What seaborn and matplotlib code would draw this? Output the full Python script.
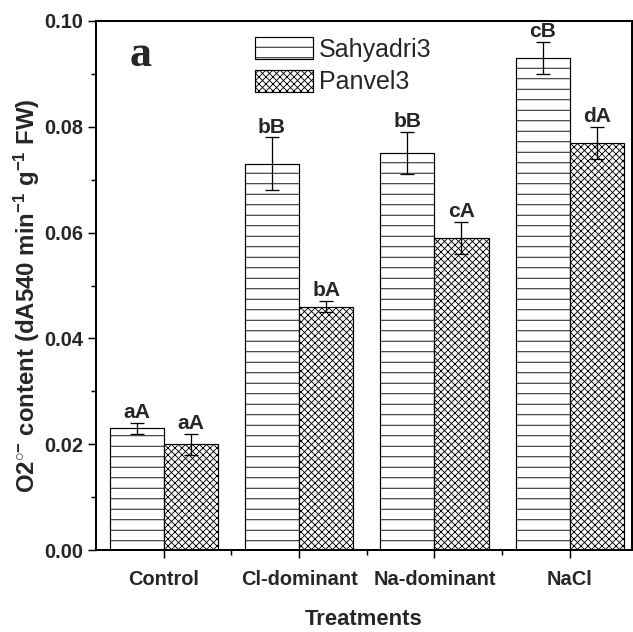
import matplotlib
matplotlib.use("Agg")
import matplotlib.pyplot as plt
import matplotlib.ticker as mticker
from matplotlib.patches import Patch
import seaborn as sns
import pandas as pd

treatments = ["Control", "Cl-dominant", "Na-dominant", "NaCl"]
cultivars = ["Sahyadri3", "Panvel3"]
sahyadri_vals = [0.023, 0.073, 0.075, 0.093]
sahyadri_err = [0.001, 0.005, 0.004, 0.003]
panvel_vals = [0.020, 0.046, 0.059, 0.077]
panvel_err = [0.002, 0.001, 0.003, 0.003]
sahyadri_letters = ["aA", "bB", "bB", "cB"]
panvel_letters = ["aA", "bA", "cA", "dA"]
hatches = {"Sahyadri3": "-", "Panvel3": "xxx"}

DPI = 63.3
PX = 72.0 / DPI  # points per pixel


def main():
    df = pd.DataFrame({
        "Treatment": treatments * 2,
        "Cultivar": [cultivars[0]] * 4 + [cultivars[1]] * 4,
        "value": sahyadri_vals + panvel_vals,
        "err": sahyadri_err + panvel_err,
        "letter": sahyadri_letters + panvel_letters,
    })

    sns.set_style("ticks")
    plt.rcParams["font.family"] = ["Liberation Sans", "DejaVu Sans"]
    plt.rcParams["mathtext.fontset"] = "custom"
    plt.rcParams["mathtext.rm"] = "Liberation Sans:bold"
    plt.rcParams["mathtext.bf"] = "Liberation Sans:bold"
    plt.rcParams["mathtext.default"] = "bf"
    plt.rcParams["hatch.linewidth"] = 1.0

    fig = plt.figure(figsize=(633 / DPI, 632 / DPI), dpi=DPI)
    ax = fig.add_axes([96 / 633, 82 / 632, 536 / 633, 529 / 632])

    sns.barplot(data=df, x="Treatment", y="value", hue="Cultivar",
                order=treatments, hue_order=cultivars,
                palette={c: "white" for c in cultivars},
                edgecolor="black", linewidth=1.2 * PX, errorbar=None,
                width=0.8, legend=False, ax=ax)

    for cont, cult in zip(ax.containers, cultivars):
        sub = df[df["Cultivar"] == cult].set_index("Treatment").loc[treatments]
        xs = []
        for bar in cont:
            bar.set_hatch(hatches[cult])
            xs.append(bar.get_x() + bar.get_width() / 2)
        ax.errorbar(xs, sub["value"], yerr=sub["err"], fmt="none",
                    ecolor="black", elinewidth=1.3 * PX, capsize=7 * PX,
                    capthick=1.3 * PX, zorder=3)
        for x, v, e, lab in zip(xs, sub["value"], sub["err"], sub["letter"]):
            ax.annotate(lab, (x, v + e), xytext=(0, 1), textcoords="offset points",
                        ha="center", va="bottom", fontsize=21 * PX,
                        fontweight="bold")

    ax.set_xlim(-0.5, 3.46)
    ax.set_ylim(0, 0.10)
    ax.yaxis.set_major_locator(mticker.MultipleLocator(0.02))
    ax.yaxis.set_minor_locator(mticker.MultipleLocator(0.01))
    ax.yaxis.set_major_formatter(mticker.FormatStrFormatter("%.2f"))
    ax.xaxis.set_minor_locator(mticker.FixedLocator([0.5, 1.5, 2.5]))

    for s in ax.spines.values():
        s.set_visible(True)
        s.set_linewidth(2 * PX)
        s.set_color("black")

    ax.tick_params(axis="both", which="major", direction="out", length=8 * PX,
                   width=1.5 * PX, labelsize=20 * PX, color="black")
    ax.tick_params(axis="both", which="minor", direction="out", length=5 * PX,
                   width=1.5 * PX, color="black")
    ax.tick_params(axis="x", which="major", pad=12 * PX)
    ax.tick_params(axis="y", which="major", pad=5 * PX)
    for lab in ax.get_xticklabels() + ax.get_yticklabels():
        lab.set_fontweight("bold")

    ax.set_xlabel("Treatments", fontsize=22 * PX, fontweight="bold",
                  labelpad=20 * PX)
    ax.set_ylabel(r"O2$^{\circ{-}}$ content (dA540 min$^{-1}$ g$^{-1}$ FW)",
                  fontsize=24 * PX, fontweight="bold")
    ax.yaxis.set_label_coords(-0.1, 0.48)

    ax.text(0.063, 0.935, "a", transform=ax.transAxes, fontsize=44 * PX,
            fontweight="bold", family="Liberation Serif", va="center")

    handles = [Patch(facecolor="white", edgecolor="black", hatch=hatches[c],
                     linewidth=1.2 * PX, label=c) for c in cultivars]
    ax.legend(handles=handles, loc="upper left",
              bbox_to_anchor=((255 - 96) / 536, (550 - 37) / 529),
              frameon=False, fontsize=25 * PX, handlelength=2.3,
              handleheight=0.97, labelspacing=0.33, handletextpad=0.25,
              borderpad=0, borderaxespad=0)

    fig.savefig("out.png", dpi=DPI)
    plt.close(fig)


if __name__ == "__main__":
    main()
